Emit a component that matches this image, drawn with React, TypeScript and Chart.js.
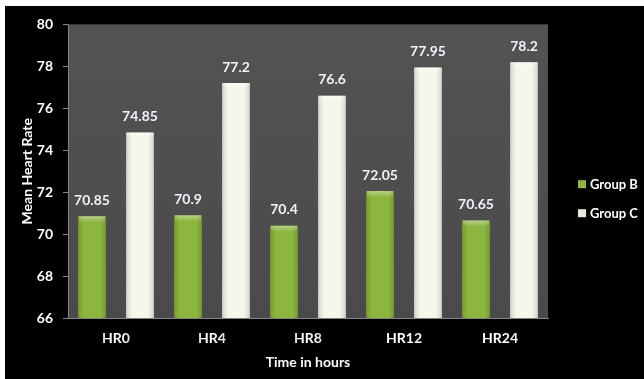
import { useEffect, useRef } from "react";
import { Chart, registerables } from "chart.js";

Chart.register(...registerables);

const categories = ["HR0", "HR4", "HR8", "HR12", "HR24"];
const groupB = [70.85, 70.9, 70.4, 72.05, 70.65];
const groupC = [74.85, 77.2, 76.6, 77.95, 78.2];
const seriesNames = ["Group B", "Group C"];
const yMin = 66;
const yMax = 80;
const yStep = 2;

const FONT = "Lato, 'Open Sans', 'DejaVu Sans', sans-serif";
const GREEN = "#8cb63f";
const CREAM = "#f6f7ea";
const AXIS = "#858585";

// black page, grey plotting panel
const backdrop = {
  id: "backdrop",
  beforeDraw(chart: any) {
    const { ctx, width, height, chartArea: a } = chart;
    ctx.save();
    ctx.fillStyle = "#000";
    ctx.fillRect(0, 0, width, height);
    const g = ctx.createLinearGradient(0, a.top, 0, a.bottom);
    g.addColorStop(0, "#535353");
    g.addColorStop(1, "#4a4a4a");
    ctx.fillStyle = g;
    ctx.fillRect(a.left, a.top, a.right - a.left, a.bottom - a.top);
    ctx.restore();
  },
};

// bevelled shading on each bar plus its value above it; runs per dataset so
// later bars overlap earlier labels
const barDecor = {
  id: "barDecor",
  afterDatasetDraw(chart: any, args: any) {
    const { ctx } = chart;
    const ds = chart.data.datasets[args.index];
    ctx.save();
    args.meta.data.forEach((el: any, i: number) => {
      const { x, y, base, width } = el.getProps(["x", "y", "base", "width"], true);
      const l = x - width / 2;
      const h = base - y;
      const side = ctx.createLinearGradient(l, 0, l + width, 0);
      side.addColorStop(0, "rgba(0,0,0,0.16)");
      side.addColorStop(0.2, "rgba(0,0,0,0)");
      side.addColorStop(0.8, "rgba(0,0,0,0)");
      side.addColorStop(1, "rgba(0,0,0,0.16)");
      ctx.fillStyle = side;
      ctx.fillRect(l, y, width, h);
      const top = ctx.createLinearGradient(0, y, 0, y + 6);
      top.addColorStop(0, "rgba(255,255,255,0.4)");
      top.addColorStop(1, "rgba(255,255,255,0)");
      ctx.fillStyle = top;
      ctx.fillRect(l + 1, y, width - 2, 6);

      ctx.fillStyle = "#eef2fa";
      ctx.font = `bold 14px ${FONT}`;
      ctx.textAlign = "center";
      ctx.textBaseline = "middle";
      ctx.fillText(String(ds.data[i]), x, y - 16);
    });
    ctx.restore();
  },
};

// legend to the right of the panel
const sideLegend = {
  id: "sideLegend",
  afterDraw(chart: any) {
    const { ctx, chartArea: a } = chart;
    const mid = (a.top + a.bottom) / 2;
    const items = [
      { label: seriesNames[0], fill: GREEN, y: mid + 14 },
      { label: seriesNames[1], fill: "#e8e8e0", y: mid + 43 },
    ];
    ctx.save();
    ctx.font = `bold 13px ${FONT}`;
    ctx.textAlign = "left";
    ctx.textBaseline = "middle";
    items.forEach((it) => {
      const sx = a.right + 30;
      ctx.fillStyle = it.fill;
      ctx.fillRect(sx, it.y - 5, 8, 8);
      ctx.fillStyle = "#fff";
      ctx.fillText(it.label, sx + 12, it.y);
    });
    ctx.restore();
  },
};

export default function App() {
  const ref = useRef<HTMLCanvasElement>(null);

  useEffect(() => {
    if (!ref.current) return;
    const chart = new Chart(ref.current, {
      type: "bar",
      data: {
        labels: categories,
        datasets: [
          { label: seriesNames[0], data: groupB, backgroundColor: GREEN },
          { label: seriesNames[1], data: groupC, backgroundColor: CREAM },
        ],
      },
      options: {
        responsive: false,
        maintainAspectRatio: false,
        animation: false,
        layout: { padding: { top: 16, right: 96, left: 0, bottom: 0 } },
        datasets: { bar: { categoryPercentage: 1, barPercentage: 0.58 } },
        plugins: { legend: { display: false }, tooltip: { enabled: false } },
        scales: {
          x: {
            grid: { display: true, drawOnChartArea: false, drawTicks: false },
            border: { display: true, color: AXIS, width: 1 },
            ticks: {
              color: "#fff",
              font: { family: FONT, size: 14, weight: "bold" },
              padding: 12,
              autoSkip: false,
            },
            title: {
              display: true,
              text: "Time in hours",
              color: "#fff",
              font: { family: FONT, size: 14, weight: "bold" },
              padding: { top: 0, bottom: 8 },
            },
            afterFit(s: any) {
              s.height = 61;
            },
          },
          y: {
            min: yMin,
            max: yMax,
            ticks: {
              stepSize: yStep,
              color: "#fff",
              font: { family: FONT, size: 14, weight: "bold" },
              padding: 10,
            },
            grid: {
              display: true,
              drawOnChartArea: false,
              drawTicks: true,
              tickLength: 5,
              color: AXIS,
            },
            border: { display: true, color: AXIS, width: 1 },
            title: {
              display: true,
              text: "Mean Heart Rate",
              color: "#fff",
              font: { family: FONT, size: 14, weight: "bold" },
              padding: { top: 14, bottom: 0 },
            },
            afterFit(s: any) {
              s.width = 63;
            },
          },
        },
      } as any,
      plugins: [backdrop, barDecor, sideLegend],
    });
    return () => chart.destroy();
  }, []);

  return (
    <div
      style={{
        position: "fixed",
        left: 0,
        top: 0,
        width: 644,
        height: 379,
        background: "#fff",
        overflow: "hidden",
      }}
    >
      <canvas
        ref={ref}
        width={639}
        height={373}
        style={{ position: "absolute", left: 5, top: 6, width: 639, height: 373 }}
      />
    </div>
  );
}
